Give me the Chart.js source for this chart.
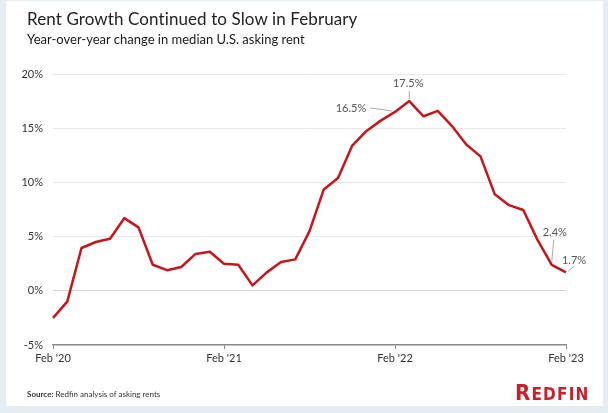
<!DOCTYPE html>
<html>
<head>
<meta charset="utf-8">
<script src="https://cdn.jsdelivr.net/npm/chart.js@4.4.0/dist/chart.umd.min.js"></script>
<style>
  html, body { margin: 0; padding: 0; }
  body { width: 608px; height: 413px; background: #e5edf3; position: relative; overflow: hidden; font-family: Lato, "Open Sans", sans-serif; }
  #card { position: absolute; left: 6px; top: 1px; width: 597px; height: 405px; background: #fff; }
  #chart { position: absolute; left: 0; top: 0; }
  .title { position: absolute; left: 27px; top: 8px; font-size: 17px; color: #222; white-space: nowrap; letter-spacing: 0.1px; }
  .subtitle { position: absolute; left: 27px; top: 31px; font-size: 13px; color: #1a1a1a; white-space: nowrap; }
  .source { position: absolute; left: 27px; top: 389px; font-size: 8px; color: #333; white-space: nowrap; }
  .logo { position: absolute; left: 515px; top: 380px; color: #c8202f; font-family: "Liberation Sans Narrow", "DejaVu Sans Condensed", sans-serif; font-weight: bold; font-size: 17px; letter-spacing: 1.2px; white-space: nowrap; }
  .logo .r { font-size: 22px; }
</style>
</head>
<body>
<div id="card"></div>
<canvas id="chart" width="608" height="413"></canvas>
<div class="title">Rent Growth Continued to Slow in February</div>
<div class="subtitle">Year-over-year change in median U.S. asking rent</div>
<div class="source"><b>Source:</b> Redfin analysis of asking rents</div>
<div class="logo"><span class="r">R</span>EDFIN</div>
<script>
// months Feb '20 .. Feb '23
const months = [
    "Feb '20", "Mar '20", "Apr '20", "May '20", "Jun '20", "Jul '20", "Aug '20", "Sep '20", "Oct '20", "Nov '20", "Dec '20", "Jan '21",
    "Feb '21", "Mar '21", "Apr '21", "May '21", "Jun '21", "Jul '21", "Aug '21", "Sep '21", "Oct '21", "Nov '21", "Dec '21", "Jan '22",
    "Feb '22", "Mar '22", "Apr '22", "May '22", "Jun '22", "Jul '22", "Aug '22", "Sep '22", "Oct '22", "Nov '22", "Dec '22", "Jan '23",
    "Feb '23"
];

// YoY change in median asking rent, %
const rentGrowth = [
    -2.5, -1.0, 3.95, 4.5, 4.8, 6.7, 5.85, 2.4, 1.9, 2.2, 3.4, 3.6,
    2.5, 2.4, 0.5, 1.7, 2.65, 2.9, 5.5, 9.35, 10.4, 13.4, 14.75, 15.7,
    16.5, 17.5, 16.1, 16.6, 15.2, 13.5, 12.4, 8.9, 7.9, 7.45, 4.7, 2.4,
    1.7
];

const yTicks = [-5, 0, 5, 10, 15, 20];

// labelled points: index into rentGrowth + text
const callouts = [
    { i: 24, text: "16.5%" },
    { i: 25, text: "17.5%" },
    { i: 35, text: "2.4%" },
    { i: 36, text: "1.7%" }
];

// where each callout text sits relative to its point
const calloutStyle = {
    24: { dx: -44, dy: -3, lx1: -25, ly1: -4, lx2: -3, ly2: -1 },
    25: { dx: -1, dy: -18, lx1: 0, ly1: -10, lx2: 0, ly2: -2 },
    35: { dx: 3, dy: -32, lx1: 2, ly1: -25, lx2: 0, ly2: -3 },
    36: { dx: 8, dy: -12, lx1: 8, ly1: -6, lx2: 2, ly2: -1 }
};

const calloutPlugin = {
    id: 'callouts',
    afterDatasetsDraw(chart) {
        const ctx = chart.ctx;
        const xs = chart.scales.x, ys = chart.scales.y;
        ctx.save();
        ctx.font = '11px Lato, sans-serif';
        ctx.fillStyle = '#555';
        ctx.strokeStyle = '#aaa';
        ctx.lineWidth = 1;
        ctx.textAlign = 'center';
        ctx.textBaseline = 'middle';
        callouts.forEach(c => {
            const s = calloutStyle[c.i];
            const px = xs.getPixelForValue(c.i);
            const py = ys.getPixelForValue(rentGrowth[c.i]);
            ctx.beginPath();
            ctx.moveTo(px + s.lx1, py + s.ly1);
            ctx.lineTo(px + s.lx2, py + s.ly2);
            ctx.stroke();
            ctx.fillText(c.text, px + s.dx, py + s.dy);
        });
        ctx.restore();
    }
};

const ctx = document.getElementById('chart');

let rentChart = new Chart(ctx, {
    type: 'line',
    data: {
        datasets: [{
            data: rentGrowth.map((v, i) => ({ x: i, y: v })),
            borderColor: '#c4161c',
            borderWidth: 2.5,
            pointRadius: 0,
            tension: 0,
            borderJoinStyle: 'round',
            clip: false
        }]
    },
    options: {
        responsive: false,
        animation: false,
        layout: { padding: { left: 0, top: 74, right: 42, bottom: 43 } },
        plugins: { legend: { display: false }, tooltip: { enabled: false } },
        scales: {
            x: {
                type: 'linear',
                min: 0,
                max: months.length - 1,
                afterFit: s => { s.height = 25; },
                ticks: {
                    stepSize: 12,
                    padding: 3,
                    color: '#333',
                    font: { family: 'Lato', size: 11 },
                    maxRotation: 0,
                    callback: v => months[v]
                },
                grid: { drawOnChartArea: false, drawTicks: true, tickLength: 4, tickColor: '#888' },
                border: { display: true, color: '#888', width: 1.5 }
            },
            y: {
                min: -5,
                max: 20,
                afterFit: s => { s.width = 53; },
                afterBuildTicks: s => { s.ticks = yTicks.map(v => ({ value: v })); },
                ticks: {
                    padding: 10,
                    color: '#333',
                    font: { family: 'Lato', size: 11 },
                    callback: v => v + '%'
                },
                grid: {
                    drawTicks: false,
                    color: c => c.tick && c.tick.value === -5 ? 'rgba(0,0,0,0)' : (c.tick && c.tick.value === 0 ? '#d4d4d4' : '#e8e8e8'),
                    lineWidth: 1
                },
                border: { display: false }
            }
        }
    },
    plugins: [calloutPlugin]
});
</script>
</body>
</html>
